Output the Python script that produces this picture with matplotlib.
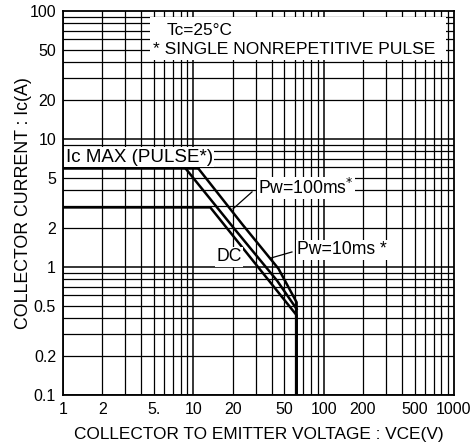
import numpy as np
import matplotlib
matplotlib.use('Agg')
import matplotlib.pyplot as plt
from matplotlib.patches import Rectangle

plt.rcParams['font.family'] = ['Liberation Sans', 'DejaVu Sans']

# data
pulse_max_v = [1, 10.9]
pulse_max_i = [5.9, 5.9]

pw10_v = [10.9, 23.8, 45, 62, 62]
pw10_i = [5.9, 2.15, 0.97, 0.53, 0.1]

pw100_v = [8.7, 20.3, 44, 62]
pw100_i = [5.9, 2.03, 0.78, 0.47]

dc_v = [1, 13.5, 62, 62]
dc_i = [2.92, 2.92, 0.42, 0.1]

x_ticks = [1, 2, 5, 10, 20, 50, 100, 200, 500, 1000]
x_labels = ['1', '2', '5.', '10', '20', '50', '100', '200', '500', '1000']
y_ticks = [0.1, 0.2, 0.5, 1, 2, 5, 10, 20, 50, 100]
y_labels = ['0.1', '0.2', '0.5', '1', '2', '5', '10', '20', '50', '100']

fig = plt.figure(figsize=(4.74, 4.45), dpi=100)
ax = fig.add_axes([0.1329, 0.1124, 0.8249, 0.8629])
ax.set_xscale('log')
ax.set_yscale('log')
ax.set_xlim(1, 1000)
ax.set_ylim(0.1, 100)

# dense log grid like the paper
for dec in [1, 10, 100]:
    for k in range(1, 10):
        ax.axvline(dec * k, color='black', lw=1.1 if k == 1 else 0.9, zorder=1)
for dec in [0.1, 1, 10]:
    for k in range(1, 10):
        ax.axhline(dec * k, color='black', lw=1.1 if k == 1 else 0.9, zorder=1)

# white block behind the condition notes
ax.add_patch(Rectangle((4.65, 41.4), 870 - 4.65, 89.8 - 41.4, facecolor='white',
                       edgecolor='none', zorder=2))

lw = 1.8
ax.plot(pulse_max_v, pulse_max_i, color='black', lw=lw, zorder=3)
ax.plot(pw10_v, pw10_i, color='black', lw=lw, zorder=3)
ax.plot(pw100_v, pw100_i, color='black', lw=lw, zorder=3)
ax.plot(dc_v, dc_i, color='black', lw=lw, zorder=3)

ax.set_xticks(x_ticks)
ax.set_xticklabels(x_labels)
ax.set_yticks(y_ticks)
ax.set_yticklabels(y_labels)
ax.minorticks_off()
ax.tick_params(length=0, labelsize=11.5, pad=5)
for s in ax.spines.values():
    s.set_linewidth(1.3)

ax.set_xlabel('COLLECTOR TO EMITTER VOLTAGE : VCE(V)', fontsize=12.4, labelpad=7)
ax.set_ylabel('COLLECTOR CURRENT : Ic(A)', fontsize=12.8, labelpad=-2)

fs = 12.7
wb = dict(facecolor='white', edgecolor='none', pad=1.0)
ax.text(6.28, 71, 'Tc=25°C', fontsize=12.4, va='center', ha='left', zorder=5)
ax.text(4.91, 49.6, '* SINGLE NONREPETITIVE PULSE', fontsize=12.6, va='center', ha='left',
        zorder=5)
ax.text(1.05, 7.2, 'Ic MAX (PULSE*)', fontsize=13.5, va='center', ha='left', bbox=wb, zorder=5)
ax.text(31.3, 4.14, 'Pw=100ms$^{*}$', fontsize=fs, va='center', ha='left', bbox=wb, zorder=5)
ax.text(62.8, 1.36, 'Pw=10ms *', fontsize=fs, va='center', ha='left', bbox=wb, zorder=5)
ax.text(18.8, 1.2, 'DC', fontsize=fs, va='center', ha='center', bbox=wb, zorder=5)

ax.plot([28.2, 20.2], [3.86, 2.85], color='black', lw=0.9, zorder=4)
ax.plot([57.1, 38.8], [1.31, 1.17], color='black', lw=0.9, zorder=4)

fig.savefig('out.png', dpi=100)
